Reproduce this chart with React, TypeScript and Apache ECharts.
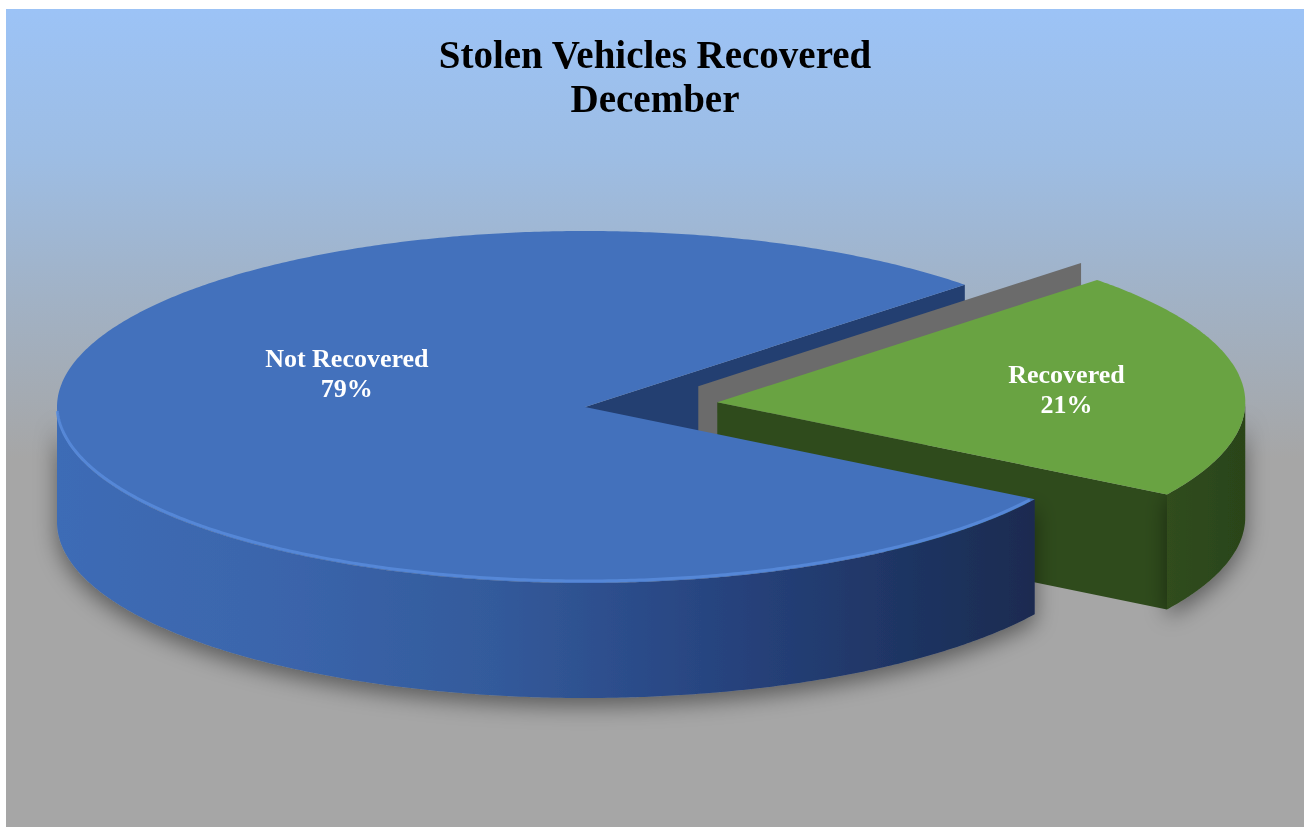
import React, { useEffect, useRef } from 'react';
import * as echarts from 'echarts';

// ---- data ----
const TITLE_LINES = ['Stolen Vehicles Recovered', 'December'];
const CATEGORIES = ['Not Recovered', 'Recovered'];
const VALUES = [79, 21];

// ---- style / layout ----
const TOP_COLORS = ['#4371bc', '#69a342'];
const CUT_COLORS = ['#233f71', '#2f4b1c'];
const EXPLODE = [0, 0.252];
const START_ANGLE = 44; // math degrees, counter-clockwise
const LABEL_POS = [
  { angle: 157, r: 0.49 },
  { angle: 6, r: 0.665 },
];

const W = 1298;
const H = 818;
const CX = 579;
const CY = 398;
const RX = 528;
const RY = 176;
const DEPTH = 115;

const total = VALUES.reduce((a, b) => a + b, 0);

function sideFill(i: number) {
  if (i === 0) {
    return new echarts.graphic.LinearGradient(0, 0, 1, 0, [
      { offset: 0, color: '#3e6cb6' },
      { offset: 0.25, color: '#3a64aa' },
      { offset: 0.45, color: '#335a9b' },
      { offset: 0.66, color: '#284581' },
      { offset: 0.86, color: '#1f3564' },
      { offset: 1, color: '#1b2b50' },
    ]);
  }
  return new echarts.graphic.LinearGradient(0, 0, 1, 0, [
    { offset: 0, color: '#304d1d' },
    { offset: 1, color: '#2a4419' },
  ]);
}

function renderItem(params: any, api: any) {
  const i = params.dataIndex;
  let before = 0;
  for (let k = 0; k < i; k++) before += VALUES[k];
  const a0 = START_ANGLE + (before / total) * 360;
  const a1 = a0 + (VALUES[i] / total) * 360;
  const bis = ((a0 + a1) / 2) * Math.PI / 180;
  const ex = EXPLODE[i];
  const cx = CX + ex * RX * Math.cos(bis);
  const cy = CY - ex * RY * Math.sin(bis);
  const rad = (d: number) => (d * Math.PI) / 180;
  const pt = (d: number, dy = 0): number[] => [cx + RX * Math.cos(rad(d)), cy - RY * Math.sin(rad(d)) + dy];
  const arc = (from: number, to: number, dy = 0) => {
    const pts: number[][] = [];
    const n = Math.max(2, Math.ceil(Math.abs(to - from) / 0.5));
    for (let s = 0; s <= n; s++) pts.push(pt(from + ((to - from) * s) / n, dy));
    return pts;
  };
  const exploded = ex > 0;
  const base = exploded ? 2 : 10;
  const children: any[] = [];

  // cut walls
  if (Math.cos(rad(a0)) > 0) {
    children.push({
      type: 'polygon',
      z2: exploded ? base + 1 : 1,
      shape: { points: [[cx, cy], pt(a0), pt(a0, DEPTH), [cx, cy + DEPTH]] },
      style: { fill: CUT_COLORS[i] },
      silent: true,
    });
  }
  if (Math.cos(rad(a1)) < 0) {
    children.push({
      type: 'polygon',
      z2: exploded ? base + 1 : 1,
      shape: { points: [[cx, cy], pt(a1), pt(a1, DEPTH), [cx, cy + DEPTH]] },
      style: { fill: CUT_COLORS[i] },
      silent: true,
    });
  } else if (exploded) {
    // far cut wall seen in perspective
    const p = pt(a1);
    children.push({
      type: 'polygon',
      z2: base,
      shape: {
        points: [
          [cx - 19, cy - 16],
          [p[0] - 16, p[1] - 17],
          [p[0] - 16, p[1] + DEPTH],
          [cx - 19, cy + DEPTH],
        ],
      },
      style: { fill: '#6b6b6b' },
      silent: true,
    });
  }

  // front side wall
  for (const k of [-360, 0, 360]) {
    const lo = Math.max(a0, 180 + k);
    const hi = Math.min(a1, 360 + k);
    if (lo < hi) {
      children.push({
        type: 'polygon',
        z2: base + 1,
        shape: { points: [...arc(lo, hi, 0), ...arc(hi, lo, DEPTH)] },
        style: {
          fill: sideFill(i),
          shadowBlur: 22,
          shadowColor: 'rgba(0,0,0,0.45)',
          shadowOffsetY: 8,
        },
        silent: true,
      });
      if (!exploded) {
        children.push({
          type: 'polyline',
          z2: base + 3,
          shape: { points: arc(lo + 2, hi - 1, -2) },
          style: { stroke: '#5a8ddd', lineWidth: 3, fill: null, opacity: 0.8 },
          silent: true,
        });
      }
    }
  }

  // top face
  children.push({
    type: 'polygon',
    z2: base + 2,
    shape: { points: [[cx, cy], ...arc(a0, a1, 0)] },
    style: { fill: TOP_COLORS[i] },
    silent: true,
  });

  // label
  const lp = LABEL_POS[i];
  const pct = Math.round((VALUES[i] / total) * 100);
  children.push({
    type: 'text',
    z2: 40,
    style: {
      text: `${CATEGORIES[i]}\n${pct}%`,
      x: cx + lp.r * RX * Math.cos(rad(lp.angle)),
      y: cy - lp.r * RY * Math.sin(rad(lp.angle)),
      fill: '#ffffff',
      fontFamily: '"Liberation Serif", "Times New Roman", serif',
      fontWeight: 'bold',
      fontSize: 26,
      lineHeight: 30,
      align: 'center',
      verticalAlign: 'middle',
      textAlign: 'center',
      textVerticalAlign: 'middle',
    },
    silent: true,
  });

  return { type: 'group', children };
}

export default function App() {
  const ref = useRef<HTMLDivElement>(null);
  useEffect(() => {
    if (!ref.current) return;
    const chart = echarts.init(ref.current, null, { renderer: 'svg' });
    chart.setOption({
      animation: false,
      title: {
        text: TITLE_LINES.join('\n'),
        left: 'center',
        top: 18,
        textStyle: {
          fontFamily: '"Liberation Serif", "Times New Roman", serif',
          fontWeight: 'bold',
          fontSize: 39,
          lineHeight: 44,
          color: '#000000',
        },
      },
      graphic: [
        {
          type: 'rect',
          z: -10,
          silent: true,
          shape: { x: 0, y: 0, width: W, height: H },
          style: {
            fill: new echarts.graphic.LinearGradient(0, 0, 0, 1, [
              { offset: 0, color: '#9cc3f6' },
              { offset: 0.18, color: '#9dbde4' },
              { offset: 0.35, color: '#a1b2c6' },
              { offset: 0.55, color: '#a6a6a6' },
              { offset: 1, color: '#a6a6a6' },
            ]),
          },
        },
      ],
      series: [
        {
          type: 'custom',
          coordinateSystem: 'none',
          renderItem,
          data: CATEGORIES.map((c, k) => ({ name: c, value: VALUES[k] })),
        },
      ],
    });
    return () => chart.dispose();
  }, []);
  return (
    <div
      ref={ref}
      style={{ position: 'fixed', left: 6, top: 9, width: W, height: H }}
    />
  );
}
